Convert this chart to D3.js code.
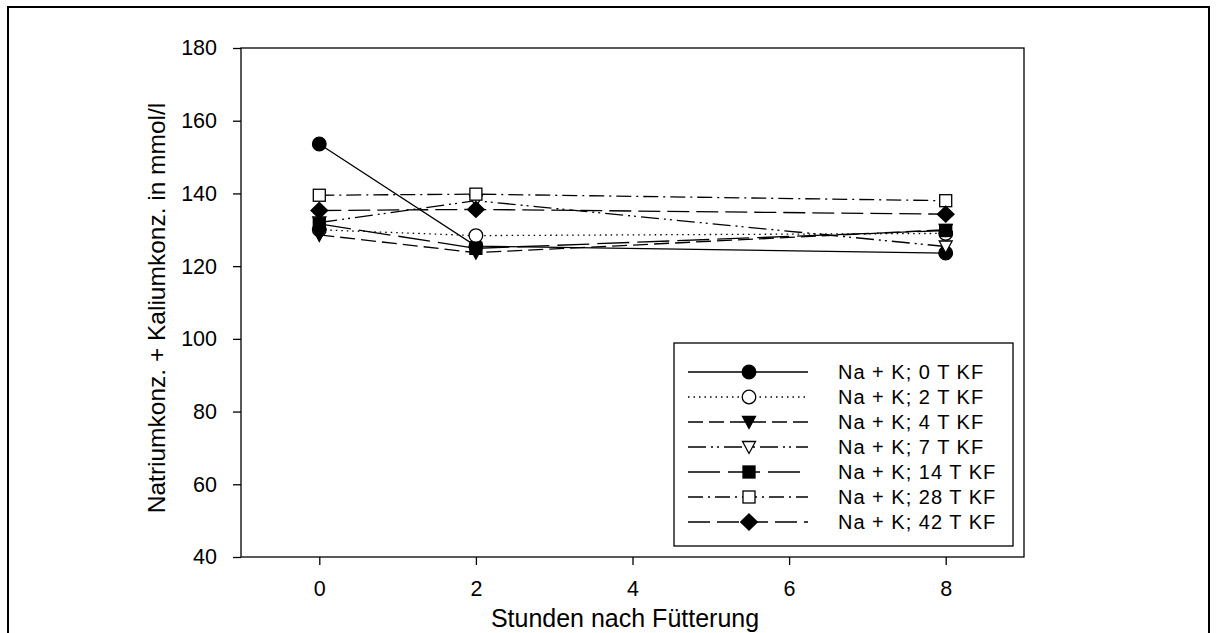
<!DOCTYPE html>
<html><head><meta charset="utf-8">
<script src="https://cdn.jsdelivr.net/npm/d3@7"></script>
<style>body{margin:0;background:#fff}svg{display:block}text{font-family:"Liberation Sans",Arial,sans-serif;fill:#000}</style>
</head><body>
<script>
const hours = [0, 2, 8];
const seriesNames = ["Na + K; 0 T KF","Na + K; 2 T KF","Na + K; 4 T KF","Na + K; 7 T KF","Na + K; 14 T KF","Na + K; 28 T KF","Na + K; 42 T KF"];
const v0T  = [153.6, 125.5, 123.6];
const v2T  = [130.0, 128.4, 129.0];
const v4T  = [128.6, 123.7, 130.0];
const v7T  = [132.0, 138.0, 125.4];
const v14T = [131.6, 124.9, 129.8];
const v28T = [139.5, 139.8, 138.0];
const v42T = [135.3, 135.6, 134.3];
const seriesValues = [v0T, v2T, v4T, v7T, v14T, v28T, v42T];
const yTicks = [40, 60, 80, 100, 120, 140, 160, 180];
const xTicks = [0, 2, 4, 6, 8];

const styles = [
  {dash:null, sym:"circle", fill:"#000"},
  {dash:"1.5,4", sym:"circle", fill:"#fff"},
  {dash:"15,6", sym:"tridown", fill:"#000"},
  {dash:"18,5,2,4,2,5", sym:"tridown", fill:"#fff"},
  {dash:"32,8", sym:"square", fill:"#000"},
  {dash:"15,5,2,5", sym:"square", fill:"#fff"},
  {dash:"22,7", sym:"diamond", fill:"#000"}
];

const W = 1218, H = 633;
const FONT = '"Liberation Sans",Arial,sans-serif';
const svg = d3.select("body").append("svg").attr("width", W).attr("height", H);
svg.append("rect").attr("x", 8).attr("y", 7).attr("width", 1201).attr("height", 700)
  .attr("fill", "none").attr("stroke", "#000").attr("stroke-width", 2);

const L = 241, R = 1024, T = 48, B = 557;
const x = d3.scaleLinear().domain([-1, 9]).range([L, R]);
const y = d3.scaleLinear().domain([40, 180]).range([B, T]);

svg.append("rect").attr("x", L).attr("y", T).attr("width", R - L).attr("height", B - T)
  .attr("fill", "none").attr("stroke", "#000").attr("stroke-width", 1.3);

const gx = svg.append("g").attr("transform", `translate(0,${B})`)
  .call(d3.axisBottom(x).tickValues(xTicks).tickSize(8).tickPadding(16).tickFormat(d3.format("d")));
const gy = svg.append("g").attr("transform", `translate(${L},0)`)
  .call(d3.axisLeft(y).tickValues(yTicks).tickSize(8).tickPadding(16).tickFormat(d3.format("d")));
[gx, gy].forEach(g => {
  g.select(".domain").remove();
  g.selectAll("line").attr("stroke", "#000").attr("stroke-width", 1.3);
  g.selectAll("text").style("font-family", FONT).style("font-size", "21.5px").attr("fill", "#000");
});

svg.append("text").attr("x", 625).attr("y", 627).attr("text-anchor", "middle")
  .style("font-size", "25px").text("Stunden nach Fütterung");
svg.append("text").attr("transform", `translate(165,308) rotate(-90)`).attr("text-anchor", "middle")
  .style("font-size", "24.5px").text("Natriumkonz. + Kaliumkonz. in mmol/l");

function marker(g, sym, cx, cy, fill) {
  let el;
  if (sym === "circle") el = g.append("circle").attr("cx", cx).attr("cy", cy).attr("r", 6.8);
  else if (sym === "square") el = g.append("rect").attr("x", cx - 6).attr("y", cy - 6).attr("width", 12).attr("height", 12);
  else if (sym === "tridown") el = g.append("path").attr("d", `M${cx-6.5},${cy-5.5}L${cx+6.5},${cy-5.5}L${cx},${cy+6.5}Z`);
  else if (sym === "diamond") el = g.append("path").attr("d", `M${cx},${cy-8}L${cx+8.3},${cy}L${cx},${cy+8}L${cx-8.3},${cy}Z`);
  el.attr("fill", fill).attr("stroke", "#000").attr("stroke-width", 1.3);
}

const line = d3.line().x((d, i) => x(hours[i])).y(d => y(d));
seriesValues.forEach((vals, k) => {
  const st = styles[k];
  svg.append("path").datum(vals).attr("d", line).attr("fill", "none").attr("stroke", "#000")
    .attr("stroke-width", 1.3).attr("stroke-dasharray", st.dash);
});
seriesValues.forEach((vals, k) => {
  const st = styles[k];
  const g = svg.append("g");
  vals.forEach((v, i) => marker(g, st.sym, x(hours[i]), y(v), st.fill));
});

// legend
const lg = svg.append("g");
lg.append("rect").attr("x", 674).attr("y", 343).attr("width", 339).attr("height", 203)
  .attr("fill", "#fff").attr("stroke", "#000").attr("stroke-width", 1.3);
seriesNames.forEach((name, k) => {
  const st = styles[k];
  const ry = 372 + k * 25;
  lg.append("line").attr("x1", 688).attr("x2", 808).attr("y1", ry).attr("y2", ry)
    .attr("stroke", "#000").attr("stroke-width", 1.3).attr("stroke-dasharray", st.dash);
  marker(lg, st.sym, 749, ry, st.fill);
  lg.append("text").attr("x", 838).attr("y", ry + 7).style("font-size", "20px")
    .style("letter-spacing", "1px").text(name);
});
</script>
</body></html>
